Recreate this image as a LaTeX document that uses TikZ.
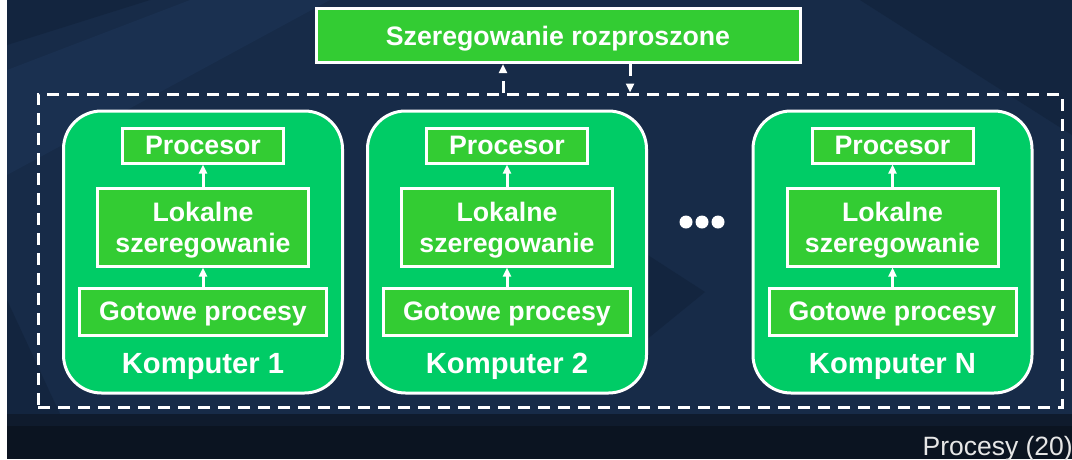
\documentclass[tikz,border=0pt]{standalone}
\usepackage{fontspec}
\setmainfont{Liberation Sans}
\usetikzlibrary{arrows.meta,positioning}
\definecolor{bgCol}{HTML}{172B48}
\definecolor{bgLight}{HTML}{1A3050}
\definecolor{bgDark}{HTML}{13253F}
\definecolor{barCol}{HTML}{0B1421}
\definecolor{barTop}{HTML}{0F1B2D}
\definecolor{compCol}{HTML}{00CC66}
\definecolor{boxCol}{HTML}{33CC33}
\definecolor{footCol}{HTML}{E6E6E6}
\newcommand{\unitfont}{\fontsize{26.7}{31}\selectfont\bfseries}
\newcommand{\compfont}{\fontsize{29.2}{33}\selectfont\bfseries}
\tikzset{
  comp/.style={draw=white, line width=3pt, fill=compCol, rounded corners=38pt,
               minimum width=279pt, minimum height=282pt},
  unit/.style={draw=white, line width=3pt, fill=boxCol, text=white, font=\unitfont,
               align=center, inner sep=0pt},
  clabel/.style={font=\compfont, text=white, text depth=0pt, inner sep=0pt},
  flow/.style={-{Triangle[length=9pt,width=8pt]}, white, line width=3pt},      % local path inside a computer
  dflow/.style={-{Triangle[length=9pt,width=8pt]}, white, line width=3pt,
                dash pattern=on 12pt off 8pt},                                 % link to global scheduler
  frame/.style={draw=white, line width=3pt, dash pattern=on 12pt off 8pt,
                minimum width=1024pt, minimum height=313pt},
}
% one computer: name, x of its centre, caption
\newcommand{\komputer}[3]{%
  \node[comp] (#1) at (#2,252) {};
  \node[unit, minimum width=161pt, minimum height=35pt] (#1proc) at (#2,145.5) {Procesor};
  \node[unit, minimum width=211pt, minimum height=78pt, text depth=0pt] (#1lok) at (#2,227) {Lokalne\\szeregowanie};
  \node[unit, minimum width=247pt, minimum height=47pt, text depth=0pt] (#1got) at (#2,311.5) {Gotowe procesy};
  \node[clabel] (#1lbl) at (#2,363) {#3};
  \draw[flow] (#1got) -- (#1lok);
  \draw[flow] (#1lok) -- (#1proc);
}

\begin{document}
\begin{tikzpicture}[x=1pt,y=-1pt]
  \useasboundingbox (0,0) rectangle (1072,459);
  % slide background
  \fill[bgCol] (7,0) rectangle (1072,414);
  \fill[bgLight] (7,70) -- (190,0) -- (330,0) -- (7,175) -- cycle;
  \fill[bgDark] (7,0) -- (150,0) -- (7,45) -- cycle;
  \fill[bgDark] (860,0) -- (1072,0) -- (1072,135) -- cycle;
  \fill[bgDark] (640,250) -- (705,292) -- (640,345) -- cycle;
  \fill[bgDark] (7,300) -- (60,414) -- (7,414) -- cycle;
  \fill[barCol] (7,414) rectangle (1072,459);
  \fill[barTop] (7,414) rectangle (1072,426);

  \node[frame] (rama) at (550,250.5) {};
  \node[unit, minimum width=484pt, minimum height=54pt, text depth=0pt] (global) at (558,35.5) {Szeregowanie rozproszone};

  \komputer{k1}{203}{Komputer 1}
  \komputer{k2}{507}{Komputer 2}
  \komputer{kn}{892.5}{Komputer N}

  \foreach \dx in {686,702,718}{\fill[white] (\dx,222) circle (6.5pt);}

  \coordinate (upx) at (503,0);
  \coordinate (downx) at (630,0);
  \draw[dflow] (rama.north -| upx) -- (global.south -| upx);
  \draw[dflow] (global.south -| downx) -- (rama.north -| downx);

  \node[font=\fontsize{26.5}{30}\selectfont, text=footCol, anchor=base east, inner sep=0pt] (stopka) at (1073,455) {Procesy (20)};
\end{tikzpicture}
\end{document}
